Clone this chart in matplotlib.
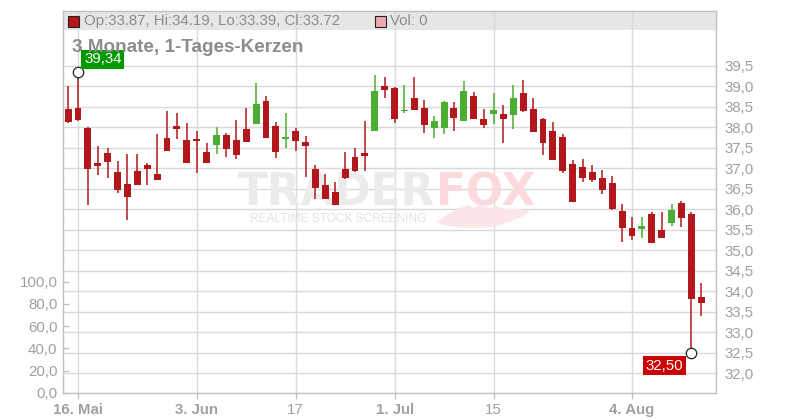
import matplotlib
matplotlib.use('Agg')
import matplotlib.pyplot as plt
from matplotlib.patches import Rectangle, Polygon

plt.rcParams['font.family'] = ['Liberation Sans', 'DejaVu Sans']

# ---------------- data ----------------
opens = [38.44, 38.47, 37.98, 37.13, 37.37, 36.91, 36.61, 36.93, 37.08, 36.86,
         37.74, 38.03, 37.69, 37.69, 37.40, 37.57, 37.81, 37.69, 37.96, 38.08,
         38.64, 38.03, 37.73, 37.91, 37.64, 36.98, 36.58, 36.41, 36.99, 37.27,
         37.36, 37.91, 39.00, 38.96, 38.40, 38.71, 38.47, 37.99, 37.99, 38.47,
         38.16, 38.76, 38.20, 38.31, 38.32, 38.30, 38.83, 38.44, 38.20, 37.91,
         37.76, 37.10, 37.03, 36.91, 36.76, 36.64, 35.96, 35.53, 35.52, 35.88,
         35.49, 35.67, 36.15, 35.88, 33.87]
highs = [39.01, 39.34, 38.00, 37.54, 37.50, 37.18, 37.35, 37.35, 37.13, 37.83,
         38.40, 38.35, 38.11, 37.91, 37.61, 38.00, 37.86, 38.18, 38.48, 39.09,
         38.77, 38.13, 38.35, 37.99, 37.79, 37.08, 36.85, 36.66, 37.39, 37.49,
         38.15, 39.27, 39.22, 38.98, 39.03, 39.22, 38.66, 38.27, 38.64, 38.61,
         39.13, 38.86, 38.44, 38.83, 38.54, 39.03, 39.15, 38.71, 38.22, 38.13,
         37.83, 37.20, 37.22, 37.08, 36.96, 36.81, 36.13, 35.80, 35.80, 35.93,
         35.93, 36.13, 36.20, 35.93, 34.19]
lows = [38.10, 38.16, 36.11, 36.84, 36.77, 36.40, 35.74, 36.59, 36.59, 36.70,
        37.42, 37.72, 37.12, 36.89, 37.12, 37.35, 37.28, 37.23, 37.64, 38.07,
        37.73, 37.26, 37.50, 37.43, 36.78, 36.24, 36.24, 36.10, 36.74, 36.91,
        36.94, 37.90, 38.70, 38.11, 38.35, 38.42, 37.87, 37.74, 37.84, 37.91,
        38.15, 38.20, 37.99, 38.09, 37.62, 37.96, 38.38, 37.88, 37.33, 37.20,
        36.89, 36.17, 36.67, 36.67, 36.36, 35.99, 35.21, 35.26, 35.30, 35.17,
        35.30, 35.59, 35.57, 32.50, 33.39]
closes = [38.13, 38.18, 36.97, 37.06, 37.16, 36.46, 36.30, 36.60, 36.99, 36.72,
          37.43, 37.96, 37.13, 37.67, 37.13, 37.81, 37.48, 37.33, 37.65, 38.57,
          37.74, 37.40, 37.75, 37.67, 37.55, 36.52, 36.25, 36.11, 36.77, 36.92,
          37.30, 38.88, 38.91, 38.21, 38.42, 38.43, 38.06, 38.15, 38.61, 38.23,
          38.88, 38.21, 38.06, 38.42, 38.21, 38.71, 38.39, 37.89, 37.62, 37.21,
          36.94, 36.18, 36.77, 36.72, 36.48, 36.00, 35.55, 35.35, 35.58, 35.18,
          35.30, 35.98, 35.79, 33.82, 33.72]
volume_total = 0

xtick_pos = [1, 13, 23, 33, 43, 57]
xtick_labels = ['16. Mai', '3. Jun', '17', '1. Jul', '15', '4. Aug']
xtick_bold = [True, True, False, True, False, True]
price_ticks = [32.0, 32.5, 33.0, 33.5, 34.0, 34.5, 35.0, 35.5, 36.0, 36.5,
               37.0, 37.5, 38.0, 38.5, 39.0, 39.5]
vol_ticks = [0, 20, 40, 60, 80, 100]

# ---------------- style ----------------
RED = '#b2181b'
GREEN = '#4bad32'
GRID = '#dadada'
AXC = '#c0c0c0'
LBL = '#a0a0a0'
W, H = 800, 420


def fx(px):
    return px / W


def fy(py):
    return 1 - py / H


fig = plt.figure(figsize=(8, 4.2), dpi=100)
ax = fig.add_axes([fx(63), 27 / H, 653 / W, 382 / H])
axv = ax.twinx()
ax.set_xlim(-0.516, 65.49)
ax.set_ylim(31.517, 40.834)

# header band
ax.add_patch(Rectangle((0, 1 - 19 / 382), 1, 19 / 382, transform=ax.transAxes,
                       facecolor='#e6e6e6', edgecolor='none', zorder=0.2))

# grid
for v in price_ticks:
    ax.axhline(v, color=GRID, lw=1.0, zorder=0.5)
for p in xtick_pos:
    ax.axvline(p, color=GRID, lw=1.0, zorder=0.5)

# watermark (inside the price axes, behind the candles)
t_trader = ax.text(fx(238), fy(205), 'TRADER', fontsize=31.5, weight='bold', color='#ebebeb',
                   family='DejaVu Sans', ha='left', va='baseline', zorder=0.6,
                   transform=fig.transFigure)
fig.canvas.draw()
bb = t_trader.get_window_extent()
ax.text(bb.x1 / W + 1 / W, fy(205), 'FOX', fontsize=31.5, weight='bold', color='#fbd9dc',
        family='DejaVu Sans', ha='left', va='baseline', zorder=0.6,
        transform=fig.transFigure)
ax.text(fx(250), fy(219), 'REALTIME STOCK SCREENING', fontsize=8.6, color='#e2e2e2',
        ha='left', va='center', zorder=0.6, transform=fig.transFigure)
tail_px = [(436, 222), (448, 214), (460, 208), (468, 205), (474, 208), (481, 205),
           (489, 208), (497, 206), (506, 209), (516, 209), (530, 211),
           (524, 216), (510, 222), (492, 227), (472, 228), (456, 227), (444, 225)]
ax.add_patch(Polygon([(fx(a), fy(b)) for a, b in tail_px], closed=True,
                     transform=fig.transFigure, facecolor='#fde6e8', edgecolor='none',
                     zorder=0.6, clip_on=False))

# candles
bw = 0.70
for i, (o, h, l, c) in enumerate(zip(opens, highs, lows, closes)):
    col = GREEN if c > o else RED
    ax.vlines(i, l, h, color=col, lw=1.1, zorder=2)
    bottom = min(o, c)
    height = abs(c - o)
    if height < 0.04:
        bottom = (o + c) / 2 - 0.02
        height = 0.04
    ax.bar(i, height, bottom=bottom, width=bw, color=col, edgecolor='none', zorder=3)

# extreme markers & labels
imax = highs.index(max(highs))
imin = lows.index(min(lows))
ax.plot([imax], [highs[imax]], 'o', ms=7.5, mfc='white', mec='#222222', mew=0.9, zorder=5)
ax.plot([imin], [lows[imin]], 'o', ms=7.5, mfc='white', mec='#222222', mew=0.9, zorder=5)
ax.annotate(f'{highs[imax]:.2f}'.replace('.', ','), (imax, highs[imax]),
            xytext=(6, 6), textcoords='offset pixels', ha='left', va='bottom',
            color='white', fontsize=10.8, zorder=6,
            bbox=dict(boxstyle='square,pad=0.17', fc='#009a00', ec='none'))
ax.annotate(f'{lows[imin]:.2f}'.replace('.', ','), (imin, lows[imin]),
            xytext=(-8, -6), textcoords='offset pixels', ha='right', va='top',
            color='white', fontsize=10.8, zorder=6,
            bbox=dict(boxstyle='square,pad=0.17', fc='#cc0000', ec='none'))

# price axis (right)
ax.yaxis.tick_right()
ax.yaxis.set_label_position('right')
ax.set_yticks(price_ticks)
ax.set_yticklabels([f'{v:.1f}'.replace('.', ',') for v in price_ticks])
ax.tick_params(axis='y', which='both', left=False, labelleft=False, right=False,
               labelright=True, length=0, pad=6, labelsize=10.8, labelcolor=LBL)

# x axis
ax.set_xticks(xtick_pos)
ax.set_xticklabels(xtick_labels)
for t, b in zip(ax.get_xticklabels(), xtick_bold):
    t.set_fontweight('bold' if b else 'normal')
ax.tick_params(axis='x', length=4, width=1, color=AXC, pad=3, labelsize=10.8,
               labelcolor=LBL)

for s in ax.spines.values():
    s.set_color(AXC)
    s.set_linewidth(1.0)

# volume axis (left)
axv.set_ylim(-0.27, 343.9)
axv.yaxis.tick_left()
axv.yaxis.set_label_position('left')
axv.set_yticks(vol_ticks)
axv.set_yticklabels([f'{v:.1f}'.replace('.', ',') for v in vol_ticks])
axv.tick_params(axis='y', which='both', left=True, labelleft=True, right=False,
                labelright=False, direction='in', length=4, width=1, color=AXC,
                pad=4, labelsize=10.8, labelcolor=LBL)
for s in axv.spines.values():
    s.set_visible(False)
axv.bar(range(len(opens)), [volume_total] * len(opens), color='#f0a8b0')

# header legend
fig.patches.append(Rectangle((fx(68), fy(27)), 11 / W, 11 / H, transform=fig.transFigure,
                             facecolor=RED, edgecolor='#222222', lw=0.8, zorder=5))
fig.text(fx(84), fy(21), f'Op:{opens[-1]:.2f}, Hi:{highs[-1]:.2f}, Lo:{lows[-1]:.2f}, Cl:{closes[-1]:.2f}',
         fontsize=10.8, color='#8c8c8c', ha='left', va='center')
fig.patches.append(Rectangle((fx(375), fy(27)), 11 / W, 11 / H, transform=fig.transFigure,
                             facecolor='#f0a8b0', edgecolor='#222222', lw=0.8, zorder=5))
fig.text(fx(390), fy(21), f'Vol: {volume_total}', fontsize=10.8, color='#8c8c8c',
         ha='left', va='center')

# title
fig.text(fx(72), fy(48), '3 Monate, 1-Tages-Kerzen', fontsize=13.6, weight='bold',
         color='#8c8c8c', ha='left', va='center')

fig.savefig('out.png', dpi=100)
